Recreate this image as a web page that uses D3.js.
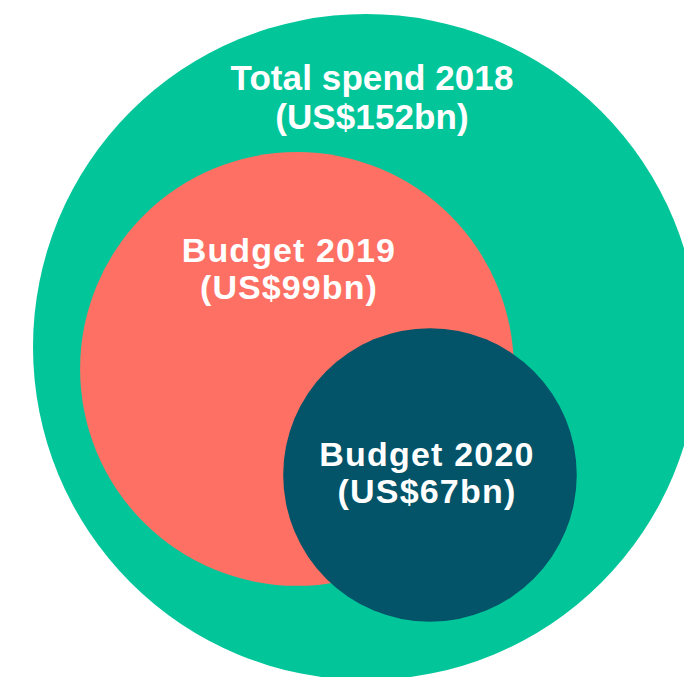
<!DOCTYPE html>
<html>
<meta charset="utf-8">
<style>
    body { margin: 0; background: #fff; }
    .label { font-family: "Liberation Sans", Arial, sans-serif; font-weight: bold; fill: #fff; text-anchor: middle; }
</style>
<body>
<script src="https://cdn.jsdelivr.net/npm/d3@7"></script>
<div id="chart"></div>
<script>
    // data (US$bn)
    var names = ["Total spend 2018", "Budget 2019", "Budget 2020"];
    var values = [152, 99, 67];
    var labels = ["(US$152bn)", "(US$99bn)", "(US$67bn)"];
    var colors = ["#02c69a", "#fe7063", "#035469"];

    // circle centres, as offsets from the big circle's centre in bn units
    var offX = [0, -31.5, 29.2];
    var offY = [0, 10, 58.4];

    var width = 684, height = 677;
    var cx0 = 366, cy0 = 347;

    // radius is linear in value here, not area
    var r = d3.scaleLinear().domain([0, 152]).range([0, 333]);
    var x = d3.scaleLinear().domain([0, 152]).range([cx0, cx0 + 333]);
    var y = d3.scaleLinear().domain([0, 152]).range([cy0, cy0 + 333]);

    var data = names.map(function (n, i) {
        return { name: n, value: values[i], label: labels[i], color: colors[i], dx: offX[i], dy: offY[i] };
    });

    var svg = d3.select("#chart").append("svg")
        .attr("width", width)
        .attr("height", height);

    svg.selectAll("circle")
        .data(data)
        .enter().append("circle")
        .attr("cx", function (d) { return x(d.dx); })
        .attr("cy", function (d) { return y(d.dy); })
        .attr("r", function (d) { return r(d.value); })
        .style("fill", function (d) { return d.color; });

    // label baselines, relative to circle centre (px)
    var textY = [-257, -107, -9];
    var textX = [6, -8, -3];
    var sizes = [35, 34, 34];
    var spacing = [0.1, 1.1, 1.2];

    var g = svg.selectAll("text.label")
        .data(data)
        .enter().append("text")
        .attr("class", "label")
        .attr("x", function (d, i) { return x(d.dx) + textX[i]; })
        .attr("y", function (d, i) { return y(d.dy) + textY[i]; })
        .style("font-size", function (d, i) { return sizes[i] + "px"; })
        .style("letter-spacing", function (d, i) { return spacing[i] + "px"; });

    g.append("tspan").text(function (d) { return d.name; });
    g.append("tspan")
        .attr("x", function (d, i) { return x(d.dx) + textX[i]; })
        .attr("dy", "1.1em")
        .text(function (d) { return d.label; });
</script>
</body>
</html>
